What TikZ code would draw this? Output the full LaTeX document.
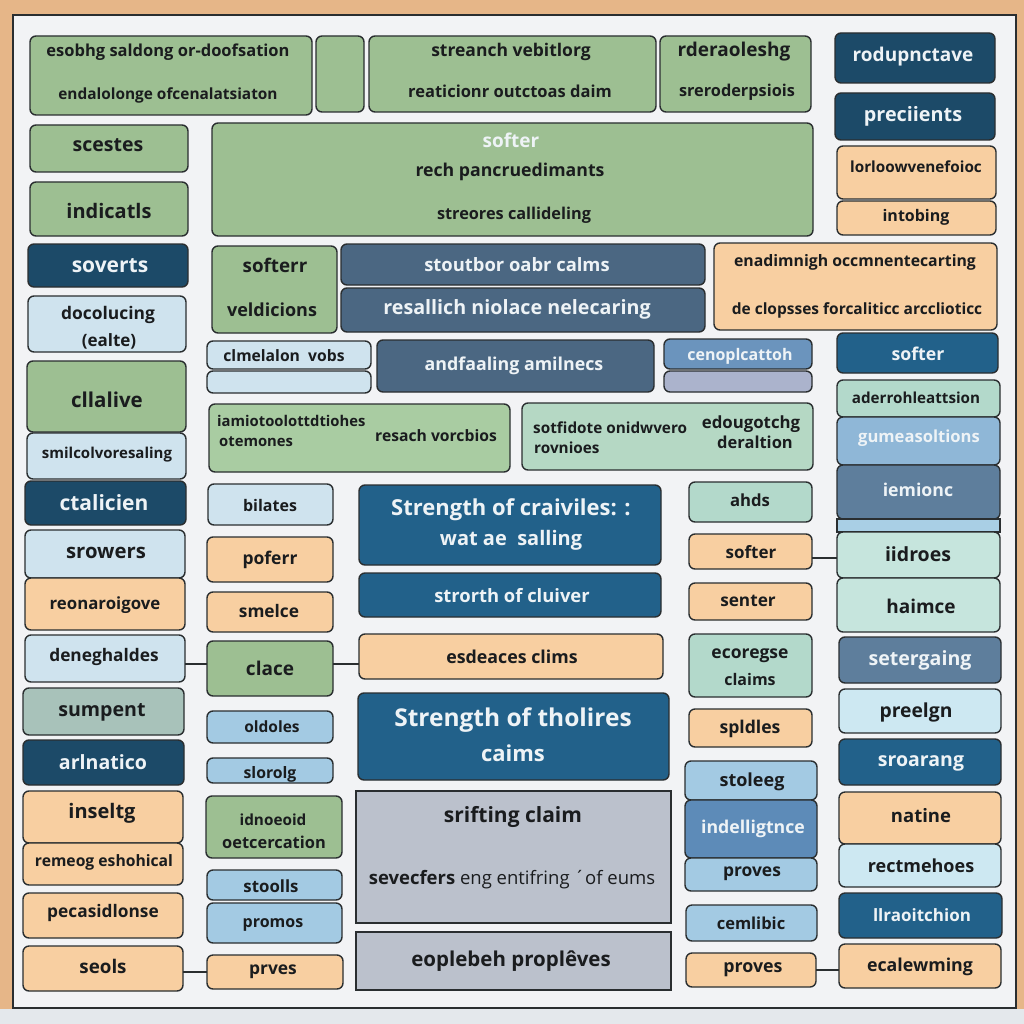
\documentclass[tikz,border=0pt]{standalone}
\usepackage{fontspec}
\setmainfont{Open Sans}
\definecolor{wood}{HTML}{E6B688}
\definecolor{board}{HTML}{F2F3F5}
\definecolor{floor}{HTML}{E4E8EC}
\definecolor{edge}{HTML}{2A2E30}
\definecolor{ink}{HTML}{1A1C1E}
\definecolor{paper}{HTML}{EEF3F6}
\definecolor{grn}{HTML}{9DBF92}
\definecolor{lgrn}{HTML}{A9CCA2}
\definecolor{mgrn}{HTML}{B5D8C4}
\definecolor{navy}{HTML}{1C4A68}
\definecolor{sblue}{HTML}{22618A}
\definecolor{slate}{HTML}{4B6782}
\definecolor{slateb}{HTML}{5E7E9C}
\definecolor{ltblue}{HTML}{CFE3EE}
\definecolor{midblue}{HTML}{A3CAE3}
\definecolor{medblue}{HTML}{6B94BD}
\definecolor{indblue}{HTML}{5D8BB8}
\definecolor{gumblue}{HTML}{8FB7D7}
\definecolor{band}{HTML}{A9CFE5}
\definecolor{lav}{HTML}{ABB3CC}
\definecolor{peach}{HTML}{F8CFA1}
\definecolor{mint}{HTML}{B3D9CB}
\definecolor{mintl}{HTML}{C6E5DD}
\definecolor{cyanl}{HTML}{CDE8F2}
\definecolor{gray}{HTML}{BBC1CC}
\definecolor{ggrn}{HTML}{A8C2BA}
\newcommand\fs[1]{\fontsize{#1}{#1}\selectfont\bfseries}
\newcommand\bx[6]{\node[#6, minimum width={#4-#2}, minimum height={#5-#3}] (#1) at ({(#2+#4)/2},{(#3+#5)/2}) {};}
\tikzset{
  bxs/.style={draw=edge, line width=1.4pt, rounded corners=6pt, inner sep=0pt, outer sep=0pt},
  sqs/.style={draw=edge, line width=1.4pt, inner sep=0pt, outer sep=0pt},
  dk/.style={text=ink, font=\fs{#1}, inner sep=0pt},
  wt/.style={text=paper, font=\fs{#1}, inner sep=0pt},
  con/.style={draw=edge, line width=2pt},
}
\begin{document}
\begin{tikzpicture}[x=1pt,y=-1pt]
\useasboundingbox (0,0) rectangle (1024,1024);
% background
\fill[wood] (0,0) rectangle (1024,1024);
\fill[floor] (0,1009) rectangle (1024,1024);
\draw[fill=board, draw=edge, line width=2pt] (13,15) rectangle (1016,1008);

% ---- top row
\bx{a}{30}{36}{312}{115}{bxs, fill=grn}
\node[dk=16.5] (ta1) at (168,52) {esobhg saldong or-doofsation};
\node[dk=15.4] (ta2) at (168,95) {endalolonge ofcenalatsiaton};
\bx{b}{316}{36}{364}{112}{bxs, fill=grn}
\bx{c}{369}{36}{656}{112}{bxs, fill=grn}
\node[dk=17.5] (tc1) at (511,52) {streanch vebitlorg};
\node[dk=16.5] (tc2) at (510,91) {reaticionr outctoas daim};
\bx{d}{660}{36}{811}{112}{bxs, fill=grn}
\node[dk=19] (td1) at (734,52) {rderaoleshg};
\node[dk=16.3] (td2) at (737,92) {sreroderpsiois};
\bx{e}{835}{33}{995}{83}{bxs, fill=navy}
\node[wt=19] (te) at (913,57) {rodupnctave};
\bx{f}{835}{93}{995}{140}{bxs, fill=navy}
\node[wt=19.8] (tf) at (913,116) {preciients};
\bx{g}{837}{146}{996}{199}{bxs, fill=peach}
\node[dk=15.3] (tg) at (916,167) {lorloowvenefoioc};
\bx{h}{837}{201}{996}{235}{bxs, fill=peach}
\node[dk=16] (th) at (916,217) {intobing};

% ---- left column
\bx{l1}{30}{125}{188}{172}{bxs, fill=grn}
\node[dk=19.5] (tl1) at (108,145) {scestes};
\bx{l2}{30}{182}{188}{236}{bxs, fill=grn}
\node[dk=20] (tl2) at (109,211) {indicatls};
\bx{l3}{28}{244}{188}{287}{bxs, fill=navy}
\node[wt=21] (tl3) at (110,266) {soverts};
\bx{l4}{28}{296}{186}{352}{bxs, fill=ltblue}
\node[dk=17.4] (tl4a) at (108,315) {docolucing};
\node[dk=17] (tl4b) at (109,341) {(ealte)};
\bx{l5}{27}{361}{186}{432}{bxs, fill=grn}
\node[dk=20.5] (tl5) at (107,400) {cllalive};
\bx{l6}{27}{433}{186}{479}{bxs, fill=ltblue}
\node[dk=15] (tl6) at (107,455) {smilcolvoresaling};
\bx{l7}{25}{481}{186}{525}{bxs, fill=navy}
\node[wt=21] (tl7) at (104,503) {ctalicien};
\bx{l8}{25}{530}{185}{578}{bxs, fill=ltblue}
\node[dk=20.3] (tl8) at (106,553) {srowers};
\bx{l9}{25}{578}{185}{630}{bxs, fill=peach}
\node[dk=16.8] (tl9) at (105,605) {reonaroigove};
\bx{l10}{25}{635}{185}{682}{bxs, fill=ltblue}
\node[dk=17.3] (tl10) at (104,657) {deneghaldes};
\bx{l11}{23}{688}{184}{735}{bxs, fill=ggrn}
\node[dk=19.6] (tl11) at (102,712) {sumpent};
\bx{l12}{23}{740}{184}{785}{bxs, fill=navy}
\node[wt=19.6] (tl12) at (103,762) {arlnatico};
\bx{l13}{23}{791}{183}{843}{bxs, fill=peach}
\node[dk=20] (tl13) at (102,813) {inseltg};
\bx{l14}{23}{843}{183}{885}{bxs, fill=peach}
\node[dk=15.7] (tl14) at (104,862) {remeog eshohical};
\bx{l15}{23}{893}{183}{938}{bxs, fill=peach}
\node[dk=17.3] (tl15) at (103,913) {pecasidlonse};
\bx{l16}{23}{946}{183}{991}{bxs, fill=peach}
\node[dk=18.8] (tl16) at (103,966) {seols};

% ---- upper middle
\bx{big}{212}{123}{813}{236}{bxs, fill=grn}
\node[wt=19] (tbig1) at (511,140) {softer};
\node[dk=17.7] (tbig2) at (510,172) {rech pancruedimants};
\node[dk=16.3] (tbig3) at (514,215) {streores callideling};
\bx{sv}{212}{246}{337}{333}{bxs, fill=grn}
\node[dk=18.8] (tsv1) at (275,265) {softerr};
\node[dk=18] (tsv2) at (272,310) {veldicions};
\bx{st1}{341}{244}{705}{285}{bxs, fill=slate}
\node[wt=18.4] (tst1) at (517,265) {stoutbor oabr calms};
\bx{st2}{341}{288}{705}{332}{bxs, fill=slate}
\node[wt=19.7] (tst2) at (517,309) {resallich niolace nelecaring};
\bx{pb}{714}{243}{997}{330}{bxs, fill=peach}
\node[dk=15.8] (tpb1) at (855,262) {enadimnigh occmnentecarting};
\node[dk=15.5] (tpb2) at (857,310) {de clopsses forcaliticc arcclioticc};
\bx{cv}{207}{341}{371}{369}{bxs, fill=ltblue}
\node[dk=15.7] (tcv) at (284,356) {clmelalon\ \ vobs};
\bx{cv2}{207}{371}{371}{393}{bxs, fill=ltblue}
\bx{an}{377}{340}{654}{392}{bxs, fill=slate}
\node[wt=17.8] (tan) at (514,366) {andfaaling amilnecs};
\bx{ce}{664}{339}{812}{369}{bxs, fill=medblue}
\node[wt=16] (tce) at (740,356) {cenoplcattoh};
\bx{ce2}{664}{371}{812}{392}{bxs, fill=lav}
\bx{so}{837}{333}{998}{373}{bxs, fill=sblue}
\node[wt=17.7] (tso) at (918,354) {softer};
\bx{w1}{209}{404}{510}{472}{bxs, fill=lgrn}
\node[dk=14.8, anchor=west] (tw1a) at (217,421) {iamiotoolottdtiohes};
\node[dk=14.8, anchor=west] (tw1b) at (219,442) {otemones};
\node[dk=15.7] (tw1c) at (436,436) {resach vorcbios};
\bx{w2}{522}{403}{813}{470}{bxs, fill=mgrn}
\node[dk=15.3, anchor=west] (tw2a) at (533,428) {sotfidote onidwvero};
\node[dk=15.3, anchor=west] (tw2b) at (534,448) {rovnioes};
\node[dk=16.8] (tw2c) at (751,424) {edougotchg};
\node[dk=16.5] (tw2d) at (755,442) {deraltion};

% ---- right stack
\bx{r1}{837}{380}{1000}{417}{bxs, fill=mint}
\node[dk=15.2] (tr1) at (916,398) {aderrohleattsion};
\bx{r2}{837}{417}{1000}{465}{bxs, fill=gumblue}
\node[wt=16.6] (tr2) at (919,438) {gumeasoltions};
\bx{r3}{837}{465}{1000}{519}{bxs, fill=slateb}
\node[wt=17.7] (tr3) at (918,490) {iemionc};
\bx{r4}{837}{519}{1000}{532}{sqs, fill=band}
\bx{r5}{837}{532}{1000}{578}{bxs, fill=mintl}
\node[dk=19.5] (tr5) at (918,554) {iidroes};
\bx{r6}{837}{578}{1000}{632}{bxs, fill=mintl}
\node[dk=19] (tr6) at (921,606) {haimce};

% ---- third column
\bx{c1}{208}{484}{333}{525}{bxs, fill=ltblue}
\node[dk=16] (tc1x) at (270,505) {bilates};
\bx{c2}{207}{537}{333}{582}{bxs, fill=peach}
\node[dk=17.5] (tc2x) at (270,560) {poferr};
\bx{c3}{207}{592}{333}{632}{bxs, fill=peach}
\node[dk=17.3] (tc3x) at (269,611) {smelce};
\bx{c4}{207}{641}{333}{696}{bxs, fill=grn}
\node[dk=19] (tc4x) at (270,668) {clace};
\bx{c5}{207}{711}{333}{743}{bxs, fill=midblue}
\node[dk=15.5] (tc5x) at (272,727) {oldoles};
\bx{c6}{207}{758}{333}{783}{bxs, fill=midblue}
\node[dk=15.8] (tc6x) at (270,774) {slorolg};
\bx{c7}{206}{796}{342}{858}{bxs, fill=grn}
\node[dk=15.3] (tc7a) at (273,820) {idnoeoid};
\node[dk=16.4] (tc7b) at (274,842) {oetcercation};
\bx{c8}{207}{870}{342}{900}{bxs, fill=midblue}
\node[dk=16.8] (tc8x) at (271,886) {stoolls};
\bx{c9}{207}{903}{342}{943}{bxs, fill=midblue}
\node[dk=16] (tc9x) at (273,925) {promos};
\bx{c10}{207}{955}{343}{989}{bxs, fill=peach}
\node[dk=17.4] (tc10x) at (273,972) {prves};

% ---- centre column
\bx{s1}{359}{485}{661}{565}{bxs, fill=sblue}
\node[wt=22] (ts1a) at (511,510) {Strength of craiviles: :};
\node[wt=20] (ts1b) at (511,540) {wat ae\ \ salling};
\bx{s2}{359}{573}{661}{617}{bxs, fill=sblue}
\node[wt=18.4] (ts2) at (512,596) {strorth of cluiver};
\bx{s3}{359}{634}{663}{679}{bxs, fill=peach}
\node[dk=17.8] (ts3) at (512,657) {esdeaces clims};
\bx{s4}{358}{693}{669}{780}{bxs, fill=sblue}
\node[wt=24.5] (ts4a) at (513,720) {Strength of tholires};
\node[wt=22] (ts4b) at (513,753) {caims};
\bx{g1}{356}{791}{671}{923}{sqs, fill=gray}
\node[dk=21] (tg1a) at (513,817) {srifting claim};
\node[text=ink, inner sep=0pt, font=\fontsize{18.5}{19}\selectfont] (tg1b) at (512,880) {\textbf{sevecfers} eng entifring ´of eums};
\bx{g2}{356}{932}{671}{990}{sqs, fill=gray}
\node[dk=20.5] (tg2) at (511,961) {eoplebeh proplêves};

% ---- fourth column
\bx{d1}{689}{482}{812}{522}{bxs, fill=mint}
\node[dk=16.7] (td1x) at (750,500) {ahds};
\bx{d2}{689}{534}{812}{569}{bxs, fill=peach}
\node[dk=17] (td2x) at (751,552) {softer};
\bx{d3}{689}{583}{812}{620}{bxs, fill=peach}
\node[dk=17.2] (td3x) at (748,601) {senter};
\bx{d4}{689}{634}{812}{697}{bxs, fill=mint}
\node[dk=17.5] (td4a) at (750,656) {ecoregse};
\node[dk=16] (td4b) at (750,679) {claims};
\bx{d5}{689}{709}{812}{747}{bxs, fill=peach}
\node[dk=17.6] (td5x) at (750,729) {spldles};
\bx{d6}{685}{761}{817}{800}{bxs, fill=midblue}
\node[dk=18] (td6x) at (752,782) {stoleeg};
\bx{d7}{685}{800}{817}{858}{bxs, fill=indblue}
\node[wt=17.7] (td7x) at (753,829) {indelligtnce};
\bx{d8}{685}{858}{817}{891}{bxs, fill=midblue}
\node[dk=17.4] (td8x) at (752,874) {proves};
\bx{d9}{686}{905}{817}{941}{bxs, fill=midblue}
\node[dk=16.5] (td9x) at (751,923) {cemlibic};
\bx{d10}{686}{953}{816}{987}{bxs, fill=peach}
\node[dk=17.8] (td10x) at (753,970) {proves};

% ---- fifth column lower
\bx{e1}{839}{637}{1001}{683}{bxs, fill=slateb}
\node[wt=19.6] (te1) at (920,660) {setergaing};
\bx{e2}{839}{689}{1001}{733}{bxs, fill=cyanl}
\node[dk=19.3] (te2) at (916,712) {preelgn};
\bx{e3}{839}{739}{1001}{785}{bxs, fill=sblue}
\node[wt=19.5] (te3) at (921,763) {sroarang};
\bx{e4}{839}{792}{1001}{844}{bxs, fill=peach}
\node[dk=18.5] (te4) at (921,816) {natine};
\bx{e5}{839}{844}{1001}{887}{bxs, fill=cyanl}
\node[dk=18] (te5) at (921,866) {rectmehoes};
\bx{e6}{839}{893}{1002}{938}{bxs, fill=sblue}
\node[wt=17] (te6) at (922,915) {llraoitchion};
\bx{e7}{839}{944}{1001}{988}{bxs, fill=peach}
\node[dk=17.8] (te7) at (920,967) {ecalewming};

% ---- connectors
\draw[con] ([yshift=5pt]c4.west) -- ([yshift=5pt]c4.west -| l10.east);
\draw[con] ([yshift=5pt]c4.east) -- ([yshift=5pt]c4.east -| s3.west);
\draw[con] ([yshift=-6pt]d2.east) -- ([yshift=-6pt]d2.east -| r5.west);
\draw[con] (c10.west) -- (c10.west -| l16.east);
\draw[con] (d10.east) -- (d10.east -| e7.west);
\end{tikzpicture}
\end{document}
